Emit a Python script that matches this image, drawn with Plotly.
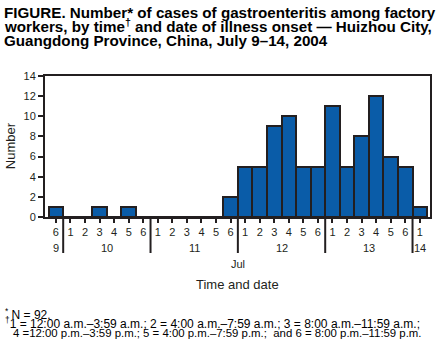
import plotly.graph_objects as go

# Data
slot_labels = ["6", "1", "2", "3", "4", "5", "6", "1", "2", "3", "4", "5", "6",
               "1", "2", "3", "4", "5", "6", "1", "2", "3", "4", "5", "6", "1"]
counts = [1, 0, 0, 1, 0, 1, 0, 0, 0, 0, 0, 0, 2,
          5, 5, 9, 10, 5, 5, 11, 5, 8, 12, 6, 5, 1]
day_labels = ["9", "10", "11", "12", "13", "14"]
day_centers = [0, 3.5, 9.5, 15.5, 21.5, 25]
day_separators = [0.5, 6.5, 12.5, 18.5, 24.5]
y_ticks = [0, 2, 4, 6, 8, 10, 12, 14]

W, H = 439, 361
L, R, T, B = 45, 7, 76, 144
PW = W - L - R
PH = H - T - B

def px(x):
    return (x - L) / PW

def py(y):
    return (H - B - y) / PH

FONT = "Liberation Sans, Arial, Helvetica, sans-serif"
INK = "#231f20"

fig = go.Figure()
fig.add_trace(go.Bar(
    x=list(range(len(counts))), y=counts,
    marker=dict(color="#0a5ca8", line=dict(color=INK, width=2)),
    width=1.0, hoverinfo="skip",
))

shapes = []
for s in day_separators:
    shapes.append(dict(type="line", xref="x", yref="paper", x0=s, x1=s,
                       y0=0, y1=py(253), line=dict(color=INK, width=2)))
shapes.append(dict(type="line", xref="paper", yref="paper", x0=px(40), x1=0,
                   y0=0, y1=0, line=dict(color=INK, width=2)))

annotations = []
for lab, c in zip(day_labels, day_centers):
    annotations.append(dict(x=c, y=py(248), xref="x", yref="paper", text=lab,
                            showarrow=False, font=dict(size=11, color=INK, family=FONT),
                            xanchor="center", yanchor="middle"))
annotations.append(dict(x=12.5, y=py(264), xref="x", yref="paper", text="Jul",
                        showarrow=False, font=dict(size=11, color=INK, family=FONT),
                        xanchor="center", yanchor="middle"))
annotations.append(dict(x=12.5, y=py(284), xref="x", yref="paper", text="Time and date",
                        showarrow=False, font=dict(size=13, color=INK, family=FONT),
                        xanchor="center", yanchor="middle"))
annotations.append(dict(x=px(10), y=py(146), xref="paper", yref="paper", text="Number",
                        showarrow=False, textangle=-90,
                        font=dict(size=13, color=INK, family=FONT),
                        xanchor="center", yanchor="middle"))

title_lines = [
    "FIGURE. Number* of cases of gastroenteritis among factory",
    "workers, by time<sup>†</sup> and date of illness onset — Huizhou City,",
    "Guangdong Province, China, July 9–14, 2004",
]
for i, t in enumerate(title_lines):
    annotations.append(dict(x=px(2), y=py(12 + 14 * i), xref="paper", yref="paper",
                            text="<b>" + t + "</b>", showarrow=False,
                            font=dict(size=15.2, color="#000000", family=FONT),
                            xanchor="left", yanchor="middle"))

foot_lines = [
    ("<sup>*</sup> N = 92.", 3, 12, 314),
    ("<sup>†</sup>1 = 12:00 a.m.–3:59 a.m.; 2 = 4:00 a.m.–7:59 a.m.; 3 = 8:00 a.m.–11:59 a.m.;", 3, 12, 323),
    ("4 =12:00 p.m.–3:59 p.m.; 5 = 4:00 p.m.–7:59 p.m.;  and 6 = 8:00 p.m.–11:59 p.m.", 11, 11.4, 333),
]
for t, x0, fs, yy in foot_lines:
    annotations.append(dict(x=px(x0), y=py(yy), xref="paper", yref="paper",
                            text=t, showarrow=False,
                            font=dict(size=fs, color="#000000", family=FONT),
                            xanchor="left", yanchor="middle"))

fig.update_layout(
    width=W, height=H,
    margin=dict(l=L, r=R, t=T, b=B, pad=0),
    paper_bgcolor="white", plot_bgcolor="white",
    showlegend=False, bargap=0, hovermode=False,
    shapes=shapes, annotations=annotations,
    font=dict(family=FONT, color=INK),
    xaxis=dict(range=[-0.75, 25.7], tickmode="array",
               tickvals=list(range(len(slot_labels))), ticktext=slot_labels,
               ticks="outside", ticklen=4, tickwidth=2, tickcolor=INK,
               showline=True, linewidth=2, linecolor=INK, mirror=True,
               showgrid=False, zeroline=False,
               tickfont=dict(size=11, color=INK, family=FONT)),
    yaxis=dict(range=[0, 14], tickmode="array", tickvals=y_ticks,
               ticks="outside", ticklen=5, tickwidth=2, tickcolor=INK,
               showline=True, linewidth=2, linecolor=INK, mirror=True,
               showgrid=False, zeroline=False,
               tickfont=dict(size=11, color=INK, family=FONT)),
)

fig.write_html("out.html", config={"displayModeBar": False},
               post_script="document.body.style.margin='0';")
